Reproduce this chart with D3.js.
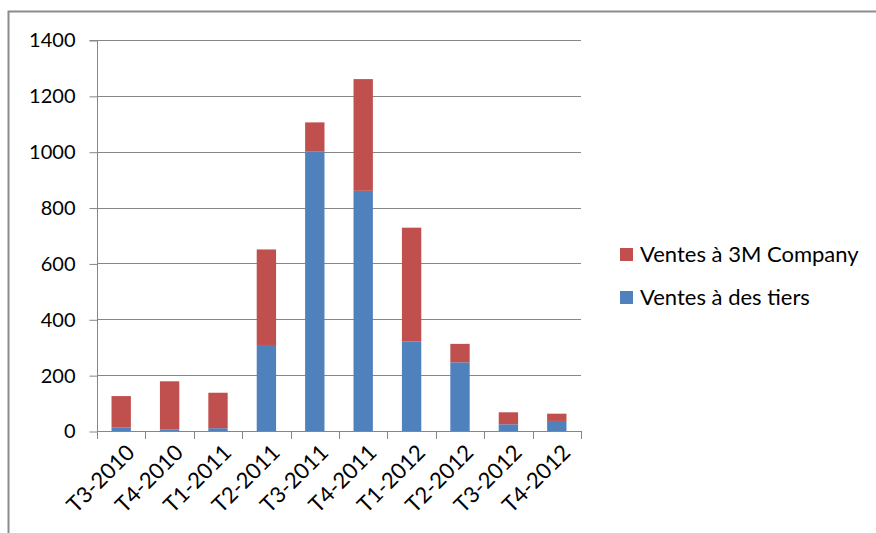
<!DOCTYPE html>
<html>
<head>
<meta charset="utf-8">
<script src="https://cdn.jsdelivr.net/npm/d3@7"></script>
<style>
  html, body { margin: 0; padding: 0; background: #fff; }
  svg { display: block; font-family: Lato, "Open Sans", sans-serif; }
</style>
</head>
<body>
<svg id="chart" width="876" height="533"></svg>
<script>
// Quarterly sales, stacked: sales to third parties (bottom) and to 3M Company (top)
const quarters = ["T3-2010", "T4-2010", "T1-2011", "T2-2011", "T3-2011",
                  "T4-2011", "T1-2012", "T2-2012", "T3-2012", "T4-2012"];
const ventesTiers = [12, 5, 10, 308, 1000, 860, 320, 246, 24, 36];
const ventes3M    = [113, 173, 127, 342, 105, 400, 408, 66, 43, 26];
const yTicks = [0, 200, 400, 600, 800, 1000, 1200, 1400];
const seriesNames = ["Ventes à des tiers", "Ventes à 3M Company"];
const seriesColors = ["#4F81BD", "#C0504D"];

const svg = d3.select("#chart");
const axisColor = "#868686";

// outer frame
svg.append("rect")
  .attr("x", 8.5).attr("y", 11.5)
  .attr("width", 900).attr("height", 600)
  .attr("fill", "none").attr("stroke", "#8c8c8c").attr("stroke-width", 2);

const plot = { left: 97, right: 581, top: 40, bottom: 431 };

const x = d3.scaleBand()
  .domain(quarters)
  .range([plot.left, plot.right])
  .paddingInner(0.6).paddingOuter(0.3);

const y = d3.scaleLinear()
  .domain([0, 1400])
  .range([plot.bottom, plot.top]);

// horizontal gridlines
svg.append("g")
  .selectAll("line")
  .data(yTicks.filter(d => d > 0))
  .join("line")
  .attr("x1", plot.left).attr("x2", plot.right)
  .attr("y1", d => Math.round(y(d)) + 0.5).attr("y2", d => Math.round(y(d)) + 0.5)
  .attr("stroke", axisColor).attr("stroke-width", 1);

// stacked bars
const rows = quarters.map((q, i) => ({ q, tiers: ventesTiers[i], m3: ventes3M[i] }));
const stack = d3.stack().keys(["tiers", "m3"]);
const layers = stack(rows);

svg.append("g")
  .selectAll("g")
  .data(layers)
  .join("g")
  .attr("fill", (d, i) => seriesColors[i])
  .selectAll("rect")
  .data(d => d)
  .join("rect")
  .attr("x", d => x(d.data.q))
  .attr("width", x.bandwidth())
  .attr("y", d => y(d[1]))
  .attr("height", d => y(d[0]) - y(d[1]));

// y axis
const yAxis = d3.axisLeft(y).tickValues(yTicks).tickSize(8).tickPadding(14).tickFormat(d3.format("d"));
const gy = svg.append("g").attr("transform", `translate(${plot.left + 0.5},0.5)`).call(yAxis);
gy.select(".domain").attr("stroke", axisColor).attr("d", `M-8,${plot.top}H0V${plot.bottom}`);
gy.selectAll(".tick line").attr("stroke", axisColor);
gy.selectAll(".tick text").attr("fill", "#000").style("font-size", "20px")
  .style("font-family", "Lato, sans-serif");

// x axis: ticks at category boundaries
const bounds = d3.range(quarters.length + 1).map(i => plot.left + i * (plot.right - plot.left) / quarters.length);
const gx = svg.append("g");
gx.append("line")
  .attr("x1", plot.left).attr("x2", plot.right + 1)
  .attr("y1", plot.bottom + 0.5).attr("y2", plot.bottom + 0.5)
  .attr("stroke", axisColor);
gx.selectAll("line.tk")
  .data(bounds)
  .join("line").attr("class", "tk")
  .attr("x1", d => Math.round(d) + 0.5).attr("x2", d => Math.round(d) + 0.5)
  .attr("y1", plot.bottom).attr("y2", plot.bottom + 8)
  .attr("stroke", axisColor);

gx.selectAll("text")
  .data(quarters)
  .join("text")
  .attr("transform", d => `translate(${x(d) + x.bandwidth() / 2 + 4},${plot.bottom + 12}) rotate(-45)`)
  .attr("text-anchor", "end")
  .attr("dy", "0.7em")
  .style("font-size", "22px")
  .attr("fill", "#000")
  .text(d => d);

// legend (top series first)
const legend = svg.append("g").attr("transform", "translate(620,248)");
const legendItems = [1, 0];
legend.selectAll("g")
  .data(legendItems)
  .join("g")
  .attr("transform", (d, i) => `translate(0,${i * 43})`)
  .each(function (si) {
    const g = d3.select(this);
    g.append("rect").attr("width", 13).attr("height", 13).attr("fill", seriesColors[si]);
    g.append("text").attr("x", 20).attr("y", 6.5).attr("dy", "0.36em")
      .style("font-size", "22px").attr("fill", "#000").text(seriesNames[si]);
  });
</script>
</body>
</html>
